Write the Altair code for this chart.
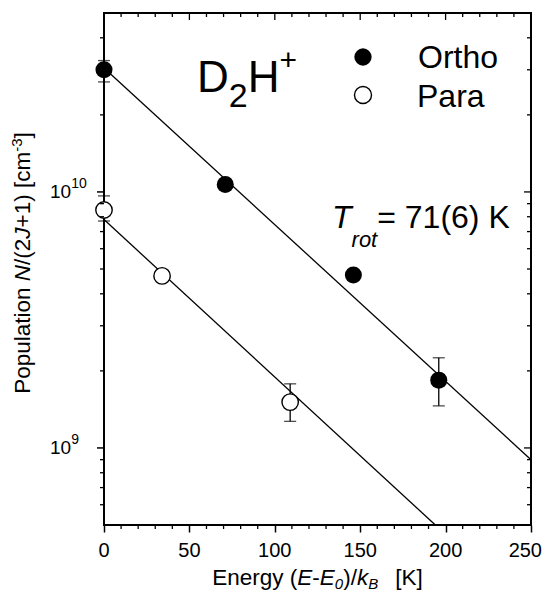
import altair as alt
import pandas as pd

FONT = "Liberation Sans"

# ---------------- data ----------------
ortho_E = [0, 71, 146, 196]
ortho_N = [3.0e10, 1.07e10, 4.74e9, 1.84e9]
para_E = [0, 34, 109]
para_N = [8.5e9, 4.7e9, 1.51e9]

ortho_err_E = [0, 196]
ortho_err_lo = [2.69e10, 1.46e9]
ortho_err_hi = [3.26e10, 2.25e9]
para_err_E = [0, 109]
para_err_lo = [7.7e9, 1.27e9]
para_err_hi = [9.65e9, 1.78e9]

ortho_fit_E = [0, 250]
ortho_fit_N = [3.05e10, 9.0e8]
para_fit_E = [0, 194]
para_fit_N = [7.8e9, 5.0e8]

x_major = [0, 50, 100, 150, 200, 250]
x_labels_inner = [0, 50, 100, 150, 200]
x_labels_last = [250]
x_minor = [10, 20, 30, 40, 60, 70, 80, 90, 110, 120, 130, 140,
           160, 170, 180, 190, 210, 220, 230, 240]
y_major = [1e9, 1e10]
y_major_exp = ["9", "10"]
y_minor = [6e8, 7e8, 8e8, 9e8, 2e9, 3e9, 4e9, 5e9, 6e9, 7e9, 8e9, 9e9,
           2e10, 3e10, 4e10]

W, H = 427, 512

# Arial advance widths (per 1000 em) for annotation layout
AW = {' ': 278, 'P': 667, 'o': 556, 'p': 556, 'u': 556, 'l': 222, 'a': 556,
      't': 278, 'i': 222, 'n': 556, 'N': 722, '/': 278, '(': 333, '2': 556,
      'J': 500, '+': 584, '1': 556, ')': 333, '[': 278, 'c': 500, 'm': 833,
      '-': 333, '3': 556, ']': 278, 'E': 667, 'e': 556, 'r': 333, 'g': 556,
      'y': 500, 'k': 500, 'B': 667, 'K': 667, '0': 556, '7': 556, '6': 556,
      '=': 584, 'T': 611, 'D': 722, 'H': 722, 'O': 778, 'h': 556, '9': 556}


def tw(s, size):
    return sum(AW[c] for c in s) * size / 1000.0


XS = alt.Scale(domain=[0, 250], nice=False, zero=False)
YS = alt.Scale(type="log", domain=[5e8, 5e10], nice=False)

X_AX = alt.X("E:Q", scale=XS, axis=alt.Axis(
    values=x_major, tickSize=7, tickWidth=1.5, tickColor="black",
    labels=False, domain=False, grid=False, title=None))
Y_NOAX = alt.Y("N:Q", scale=YS, axis=None)

layers = []

# fit lines
fit_df = pd.DataFrame({
    "E": ortho_fit_E + para_fit_E,
    "N": ortho_fit_N + para_fit_N,
    "s": ["o"] * len(ortho_fit_E) + ["p"] * len(para_fit_E)})
layers.append(alt.Chart(fit_df).mark_line(color="black", strokeWidth=1.3).encode(
    x=X_AX, y=Y_NOAX, detail="s:N"))

# error bars
err_df = pd.DataFrame({
    "E": ortho_err_E + para_err_E,
    "lo": ortho_err_lo + para_err_lo,
    "hi": ortho_err_hi + para_err_hi})
layers.append(alt.Chart(err_df).mark_rule(color="black", strokeWidth=1.3).encode(
    x=X_AX, y=alt.Y("lo:Q", scale=YS, axis=None), y2="hi:Q"))
layers.append(alt.Chart(err_df).mark_tick(color="black", thickness=1.3, size=12,
                                          orient="horizontal").encode(
    x=X_AX, y=alt.Y("lo:Q", scale=YS, axis=None)))
layers.append(alt.Chart(err_df).mark_tick(color="black", thickness=1.3, size=12,
                                          orient="horizontal").encode(
    x=X_AX, y=alt.Y("hi:Q", scale=YS, axis=None)))

# points
o_df = pd.DataFrame({"E": ortho_E, "N": ortho_N})
p_df = pd.DataFrame({"E": para_E, "N": para_N})
layers.append(alt.Chart(o_df).mark_point(shape="circle", filled=True, color="black",
                                         size=290, opacity=1).encode(x=X_AX, y=Y_NOAX))
layers.append(alt.Chart(p_df).mark_point(shape="circle", filled=True, fill="white",
                                         stroke="black", strokeWidth=1.4,
                                         size=270, opacity=1).encode(x=X_AX, y=Y_NOAX))

# ticks: bottom minor (outward), top (inward), left minor (outward), right (inward)
xmin_df = pd.DataFrame({"E": x_minor})
xmaj_df = pd.DataFrame({"E": x_major})
ymin_df = pd.DataFrame({"N": y_minor})
ymaj_df = pd.DataFrame({"N": y_major})
rule = dict(color="black", strokeWidth=1.3)
layers.append(alt.Chart(xmin_df).mark_rule(**rule).encode(
    x=X_AX, y=alt.value(H), y2=alt.value(H + 4)))
layers.append(alt.Chart(xmin_df).mark_rule(**rule).encode(
    x=X_AX, y=alt.value(0), y2=alt.value(4)))
layers.append(alt.Chart(xmaj_df).mark_rule(**rule).encode(
    x=X_AX, y=alt.value(0), y2=alt.value(7)))
layers.append(alt.Chart(ymin_df).mark_rule(**rule).encode(
    y=Y_NOAX, x=alt.value(0), x2=alt.value(-4)))
layers.append(alt.Chart(ymaj_df).mark_rule(color="black", strokeWidth=1.5).encode(
    y=Y_NOAX, x=alt.value(0), x2=alt.value(-7)))
layers.append(alt.Chart(ymin_df).mark_rule(**rule).encode(
    y=Y_NOAX, x=alt.value(W), x2=alt.value(W - 4)))
layers.append(alt.Chart(ymaj_df).mark_rule(**rule).encode(
    y=Y_NOAX, x=alt.value(W), x2=alt.value(W - 7)))

# x tick labels (last one pulled inside the page edge)
layers.append(alt.Chart(pd.DataFrame({"E": x_labels_inner})).mark_text(
    font=FONT, fontSize=20, align="center", baseline="top", color="black").encode(
    x=X_AX, y=alt.value(H + 16), text="E:Q"))
layers.append(alt.Chart(pd.DataFrame({"E": x_labels_last})).mark_text(
    font=FONT, fontSize=20, align="right", baseline="top", dx=11, color="black").encode(
    x=X_AX, y=alt.value(H + 16), text="E:Q"))

# y tick labels 10^n
ylab_df = pd.DataFrame({"N": y_major, "exp": y_major_exp})
layers.append(alt.Chart(ylab_df).mark_text(
    text="10", font=FONT, fontSize=19, align="left", baseline="middle",
    color="black").encode(y=Y_NOAX, x=alt.value(-54)))
layers.append(alt.Chart(ylab_df).mark_text(
    font=FONT, fontSize=14, align="left", baseline="middle", dy=-8,
    color="black").encode(y=Y_NOAX, x=alt.value(-54 + tw("10", 19)), text="exp:N"))


def txt(s, x, y, size, italic=False, angle=0, align="left"):
    kw = dict(text=s, font=FONT, fontSize=size, align=align,
              baseline="alphabetic", color="black")
    if italic:
        kw["fontStyle"] = "italic"
    if angle:
        kw["angle"] = angle
    return alt.Chart(alt.Data(values=[{"k": 1}])).mark_text(**kw).encode(
        x=alt.value(x), y=alt.value(y))


# x axis title: Energy (E-E0)/kB   [K]  (gap = extra advance before "[K]")
fs, fsub = 22.5, 15
pieces = [("Energy (", fs, False, 0, 0), ("E", fs, True, 0, 0), ("-", fs, False, 0, 0),
          ("E", fs, True, 0, 0), ("0", fsub, True, 4, 0), (")/", fs, False, 0, 0),
          ("k", fs, True, 0, 0), ("B", fsub, True, 4, 0), ("[K]", fs, False, 0, 17)]
total = sum(tw(p[0], p[1]) + p[4] for p in pieces)
cx = 213.5 - total / 2
base = 572
for s, sz, it, dy, gap in pieces:
    cx += gap
    layers.append(txt(s, cx, base + dy, sz, it))
    cx += tw(s, sz)

# y axis title (rotated)
fs, fsup = 22.5, 15
sp = tw(" ", fs)
pieces = [("Population", fs, False, 0, 0), ("N", fs, True, 0, sp), ("/(2", fs, False, 0, 0),
          ("J", fs, True, 0, 0), ("+1)", fs, False, 0, 0), ("[cm", fs, False, 0, sp),
          ("-3", fsup, False, -8, 0), ("]", fs, False, 0, 0)]
total = sum(tw(p[0], p[1]) + p[4] for p in pieces)
cy = 250 + total / 2
bx = -74
for s, sz, it, dx, gap in pieces:
    cy -= gap
    layers.append(txt(s, bx + dx, cy, sz, it, angle=270))
    cy -= tw(s, sz)

# D2H+
layers.append(txt("D", 93, 79, 44))
layers.append(txt("2", 93 + tw("D", 44), 94, 34))
layers.append(txt("H", 93 + tw("D", 44) + tw("2", 34), 79, 44))
layers.append(txt("+", 93 + tw("D", 44) + tw("2", 34) + tw("H", 44), 57, 30))

# legend
layers.append(alt.Chart(alt.Data(values=[{"k": 1}])).mark_point(
    shape="circle", filled=True, color="black", size=300, opacity=1).encode(
    x=alt.value(259), y=alt.value(44)))
layers.append(alt.Chart(alt.Data(values=[{"k": 1}])).mark_point(
    shape="circle", filled=True, fill="white", stroke="black", strokeWidth=1.4,
    size=290, opacity=1).encode(x=alt.value(259), y=alt.value(82)))
layers.append(txt("Ortho", 314, 55, 32))
layers.append(txt("Para", 313, 94, 32))

# T_rot = 71(6) K
tx = 228
layers.append(txt("T", tx, 215, 32, True))
tx += tw("T", 32)
layers.append(txt("rot", tx, 234, 22, True))
tx += tw("rot", 22)
layers.append(txt("= 71(6) K", tx, 215, 32))

chart = alt.layer(*layers).properties(
    width=W, height=H,
    autosize=alt.AutoSizeParams(type="none"),
    padding={"left": 96, "top": 5, "right": 11, "bottom": 68},
).configure_view(stroke="black", strokeWidth=2)

chart.save("out.html", embed_options={"renderer": "svg", "actions": False})
